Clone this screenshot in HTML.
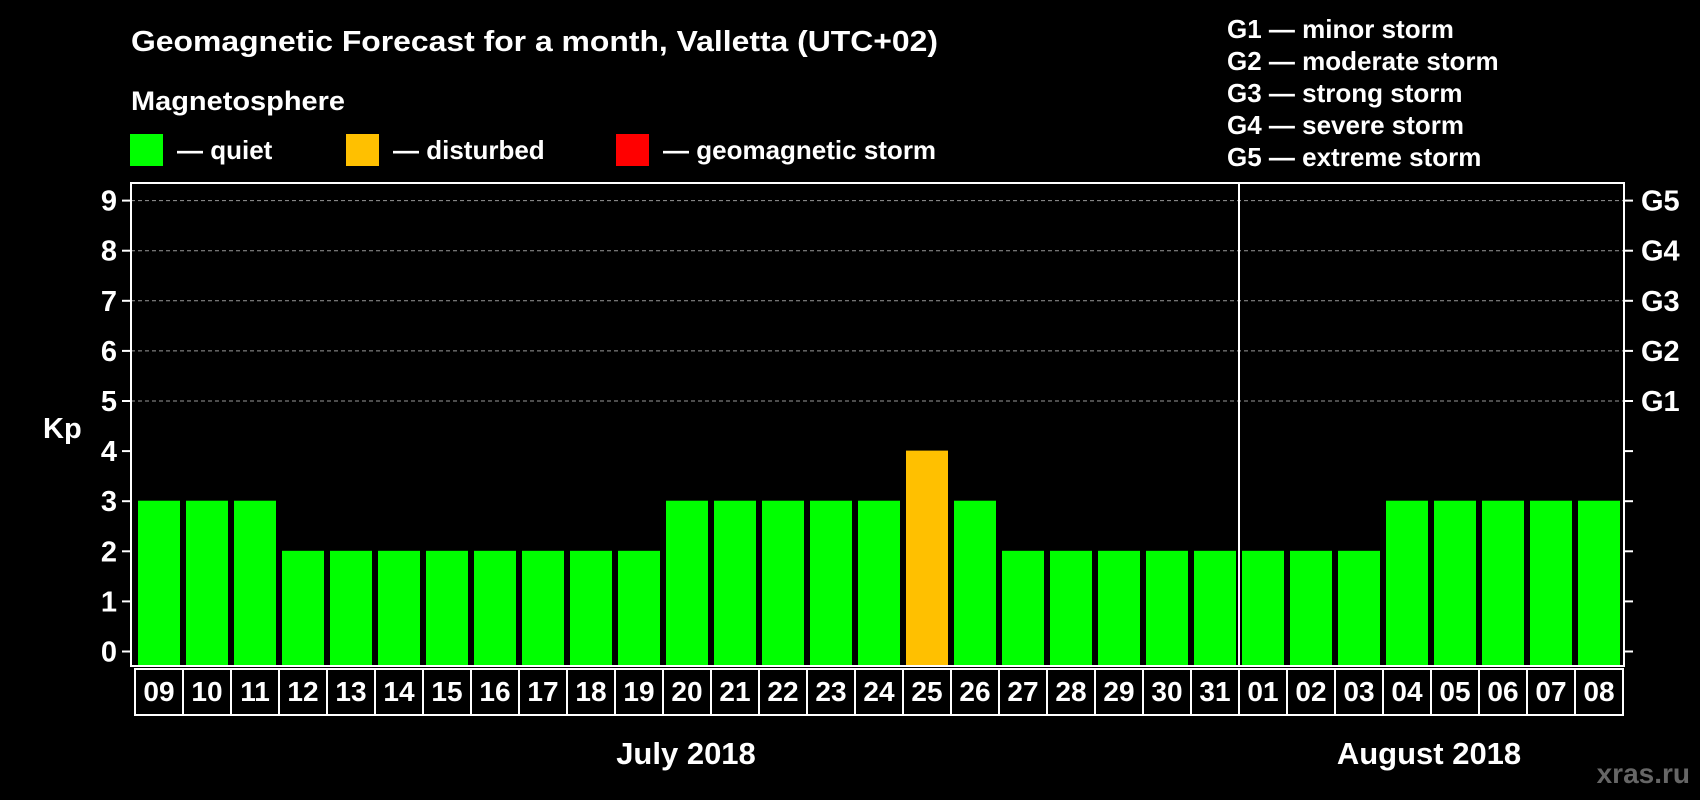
<!DOCTYPE html>
<html><head><meta charset="utf-8"><style>
html,body{margin:0;padding:0;background:#000;}
svg{display:block;font-family:"Liberation Sans",Arial,sans-serif;font-weight:bold;}
</style></head><body>
<svg id="chart" width="1700" height="800" viewBox="0 0 1700 800">
<text x="131" y="51" fill="#fff" font-size="29" textLength="807" lengthAdjust="spacingAndGlyphs">Geomagnetic Forecast for a month, Valletta (UTC+02)</text>
<text x="131" y="110" fill="#fff" font-size="27" textLength="214" lengthAdjust="spacingAndGlyphs">Magnetosphere</text>
<g>
<rect x="130" y="134" width="33" height="32" fill="#00ff00"/>
<text x="177" y="159" fill="#fff" font-size="26">— quiet</text>
<rect x="346" y="134" width="33" height="32" fill="#ffc000"/>
<text x="393" y="159" fill="#fff" font-size="26">— disturbed</text>
<rect x="616" y="134" width="33" height="32" fill="#ff0000"/>
<text x="663" y="159" fill="#fff" font-size="26">— geomagnetic storm</text>
</g>
<g font-size="26" fill="#fff">
<text x="1227" y="38">G1 — minor storm</text>
<text x="1227" y="70">G2 — moderate storm</text>
<text x="1227" y="102">G3 — strong storm</text>
<text x="1227" y="134">G4 — severe storm</text>
<text x="1227" y="166">G5 — extreme storm</text>
</g>
<text x="43" y="438" fill="#fff" font-size="29">Kp</text>
<g id="grid"></g>
<g id="bars"></g>
<g id="days"></g>
<rect x="131" y="183" width="1493" height="483" fill="none" stroke="#fff" stroke-width="2"/>
<line x1="1239" y1="183" x2="1239" y2="666" stroke="#fff" stroke-width="2"/>
<text x="686" y="764" fill="#fff" font-size="31" text-anchor="middle">July 2018</text>
<text x="1429" y="764" fill="#fff" font-size="31" text-anchor="middle">August 2018</text>
<text x="1690" y="783" fill="#666" font-size="28" text-anchor="end">xras.ru</text>
</svg>
<script>
const days = ["09","10","11","12","13","14","15","16","17","18","19","20","21","22","23","24","25","26","27","28","29","30","31","01","02","03","04","05","06","07","08"];
const kpValues = [3,3,3,2,2,2,2,2,2,2,2,3,3,3,3,3,4,3,2,2,2,2,2,2,2,2,3,3,3,3,3];
const yTicks = [0,1,2,3,4,5,6,7,8,9];
const gLabels = ["G1","G2","G3","G4","G5"];
const NS = "http://www.w3.org/2000/svg";
function y(v){ return 651.5 - v * 50.1; }
function x(i){ return 135 + 48 * i; }
function mk(tag, attrs, parent){ const e = document.createElementNS(NS, tag); for (const k in attrs) e.setAttribute(k, attrs[k]); parent.appendChild(e); return e; }
const grid = document.getElementById("grid"), bars = document.getElementById("bars"), dg = document.getElementById("days");
yTicks.forEach(v => {
  const yy = y(v);
  if (v >= 5) {
    const gl = mk("line", {x1:131, x2:1624, y1:yy, y2:yy, stroke:"#999", "stroke-dasharray":"4,3", "stroke-width":1}, grid);
    
    
  }
  const t1 = mk("line", {x1:122, x2:131, y1:yy, y2:yy, stroke:"#fff", "stroke-width":2}, grid);
  
  
  const t2 = mk("line", {x1:1624, x2:1633, y1:yy, y2:yy, stroke:"#fff", "stroke-width":2}, grid);
  
  
  const lb = mk("text", {x:117, y:yy + 10, fill:"#fff", "font-size":29, "text-anchor":"end"}, grid);
  lb.textContent = v;
  
  
});
gLabels.forEach((g, k) => {
  const lb = mk("text", {x:1641, y:y(5 + k) + 10, fill:"#fff", "font-size":29}, grid);
  lb.textContent = g;
  
  
});
kpValues.forEach((v, i) => {
  const col = v >= 5 ? "#ff0000" : (v >= 4 ? "#ffc000" : "#00ff00");
  const top = y(v) - 0.5;
  const r = mk("rect", {x:x(i) + 3, y:top, width:42, height:665 - top, fill:col}, bars);
  
  
});
days.forEach((d, i) => {
  const b = mk("rect", {x:x(i), y:669, width:48, height:46, fill:"none", stroke:"#fff", "stroke-width":2}, dg);
  
  
  const t = mk("text", {x:x(i) + 24, y:701, fill:"#fff", "font-size":28, "text-anchor":"middle"}, dg);
  t.textContent = d;
  
  
});
</script>
</body></html>
